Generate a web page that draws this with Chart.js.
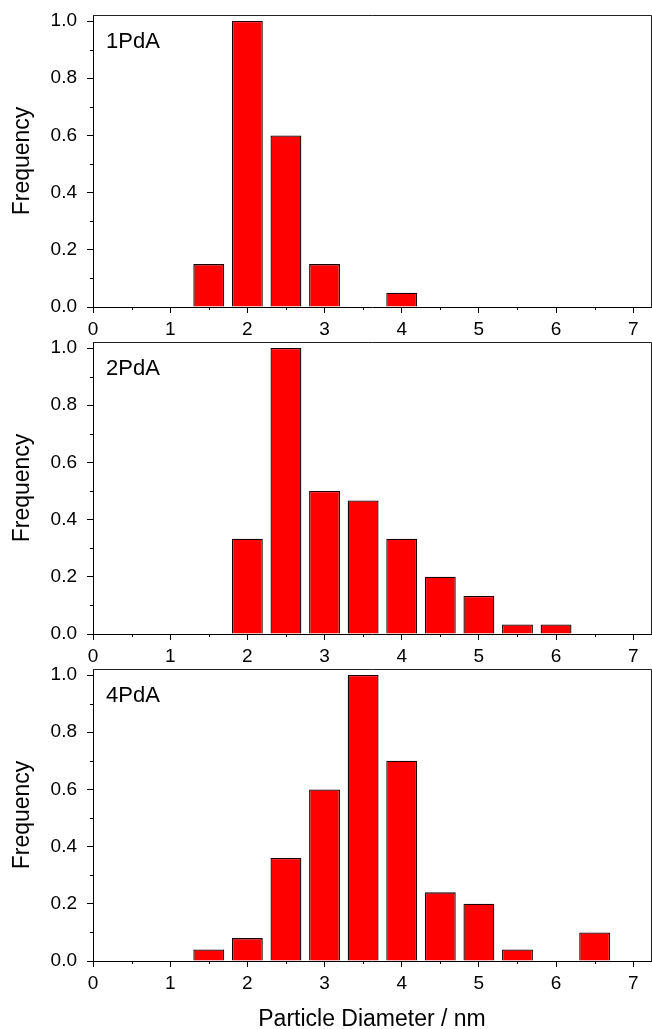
<!DOCTYPE html>
<html>
<head>
<meta charset="utf-8">
<script src="https://cdn.jsdelivr.net/npm/chart.js@4/dist/chart.umd.min.js"></script>
<style>
  body { margin: 0; background: #fff; }
  #wrap { position: relative; width: 652px; height: 1029px; }
  canvas { position: absolute; left: 0; }
</style>
</head>
<body>
<div id="wrap">
  <canvas id="c1" width="652" height="338" style="top:0px"></canvas>
  <canvas id="c2" width="652" height="327" style="top:338px"></canvas>
  <canvas id="c3" width="652" height="364" style="top:665px"></canvas>
</div>
<script>
// particle size histograms, bar centres in nm
var diam1 = [1.5, 2, 2.5, 3, 4];
var freq1 = [0.15, 1.0, 0.6, 0.15, 0.05];

var diam2 = [2, 2.5, 3, 3.5, 4, 4.5, 5, 5.5, 6];
var freq2 = [0.333, 1.0, 0.5, 0.467, 0.333, 0.2, 0.133, 0.033, 0.033];

var diam3 = [1.5, 2, 2.5, 3, 3.5, 4, 4.5, 5, 5.5, 6.5];
var freq3 = [0.04, 0.08, 0.36, 0.6, 1.0, 0.7, 0.24, 0.2, 0.04, 0.1];

var xTicks = [0, 1, 2, 3, 4, 5, 6, 7];
var xMinor = [0.5, 1.5, 2.5, 3.5, 4.5, 5.5, 6.5];
var yTicks = [0, 0.2, 0.4, 0.6, 0.8, 1.0];
var yMinor = [0.1, 0.3, 0.5, 0.7, 0.9];

var FONT = '"Liberation Sans", Arial, Helvetica, sans-serif';

// frame, minor ticks and the sample name inside the plot
var extras = {
    id: 'extras',
    afterDraw: function (chart, args, o) {
        var ctx = chart.ctx, a = chart.chartArea;
        var x = chart.scales.x, y = chart.scales.y;
        ctx.save();
        ctx.strokeStyle = '#222';
        ctx.lineWidth = 1;
        ctx.beginPath();
        ctx.moveTo(a.left, a.top + 0.5);
        ctx.lineTo(a.right + 0.5, a.top + 0.5);
        ctx.lineTo(a.right + 0.5, a.bottom);
        ctx.stroke();

        ctx.strokeStyle = '#000';
        ctx.beginPath();
        xMinor.forEach(function (v) {
            var px = Math.round(x.getPixelForValue(v)) + 0.5;
            ctx.moveTo(px, a.bottom);
            ctx.lineTo(px, a.bottom + 3);
        });
        yMinor.forEach(function (v) {
            var py = Math.round(y.getPixelForValue(v)) + 0.5;
            ctx.moveTo(a.left - 3, py);
            ctx.lineTo(a.left, py);
        });
        ctx.stroke();

        ctx.fillStyle = '#000';
        ctx.font = '22px ' + FONT;
        ctx.textBaseline = 'alphabetic';
        ctx.fillText(o.text, a.left + 13, a.top + 33);
        ctx.restore();
    }
};

function makePanel(id, name, diam, freq, padTop, xHeight, showTitle) {
    var pts = diam.map(function (d, i) { return { x: d, y: freq[i] }; });
    return new Chart(document.getElementById(id).getContext('2d'), {
        type: 'bar',
        data: {
            datasets: [{
                data: pts,
                backgroundColor: '#ff0000',
                borderColor: '#1a0000',
                borderWidth: 1.3,
                inflateAmount: 0,
                barPercentage: 1.0,
                categoryPercentage: 0.8
            }]
        },
        options: {
            responsive: false,
            animation: false,
            devicePixelRatio: 1,
            layout: { padding: { top: padTop, right: 1, left: 0, bottom: 0 } },
            plugins: {
                legend: { display: false },
                tooltip: { enabled: false },
                extras: { text: name }
            },
            scales: {
                x: {
                    type: 'linear',
                    min: 0,
                    max: 7.23,
                    offset: false,
                    afterBuildTicks: function (s) {
                        s.ticks = xTicks.map(function (v) { return { value: v }; });
                    },
                    afterFit: function (s) {
                        s.height = xHeight;
                        s.paddingLeft = 0;
                        s.paddingRight = 0;
                    },
                    ticks: {
                        color: '#000',
                        padding: 5,
                        maxRotation: 0,
                        autoSkip: false,
                        font: { family: FONT, size: 19 },
                        callback: function (v) { return String(v); }
                    },
                    grid: {
                        offset: false,
                        drawOnChartArea: false,
                        color: '#000',
                        tickLength: 6
                    },
                    border: { color: '#000', width: 1 },
                    title: {
                        display: showTitle,
                        text: 'Particle Diameter / nm',
                        color: '#000',
                        padding: { top: 0, bottom: 0 },
                        font: { family: FONT, size: 23, lineHeight: 0.8 }
                    }
                },
                y: {
                    min: 0,
                    max: 1.021,
                    afterBuildTicks: function (s) {
                        s.ticks = yTicks.map(function (v) { return { value: v }; });
                    },
                    afterFit: function (s) {
                        s.width = 93;
                        s.paddingTop = 0;
                        s.paddingBottom = 0;
                    },
                    ticks: {
                        color: '#000',
                        padding: 10,
                        font: { family: FONT, size: 19 },
                        callback: function (v) { return v.toFixed(1); }
                    },
                    grid: {
                        drawOnChartArea: false,
                        color: '#000',
                        tickLength: 6
                    },
                    border: { color: '#000', width: 1 },
                    title: {
                        display: true,
                        text: 'Frequency',
                        color: '#000',
                        padding: { top: 9, bottom: 0 },
                        font: { family: FONT, size: 23 }
                    }
                }
            }
        },
        plugins: [extras]
    });
}

makePanel('c1', '1PdA', diam1, freq1, 15, 31, false);
makePanel('c2', '2PdA', diam2, freq2, 4, 31, false);
makePanel('c3', '4PdA', diam3, freq3, 4, 68, true);
</script>
</body>
</html>
